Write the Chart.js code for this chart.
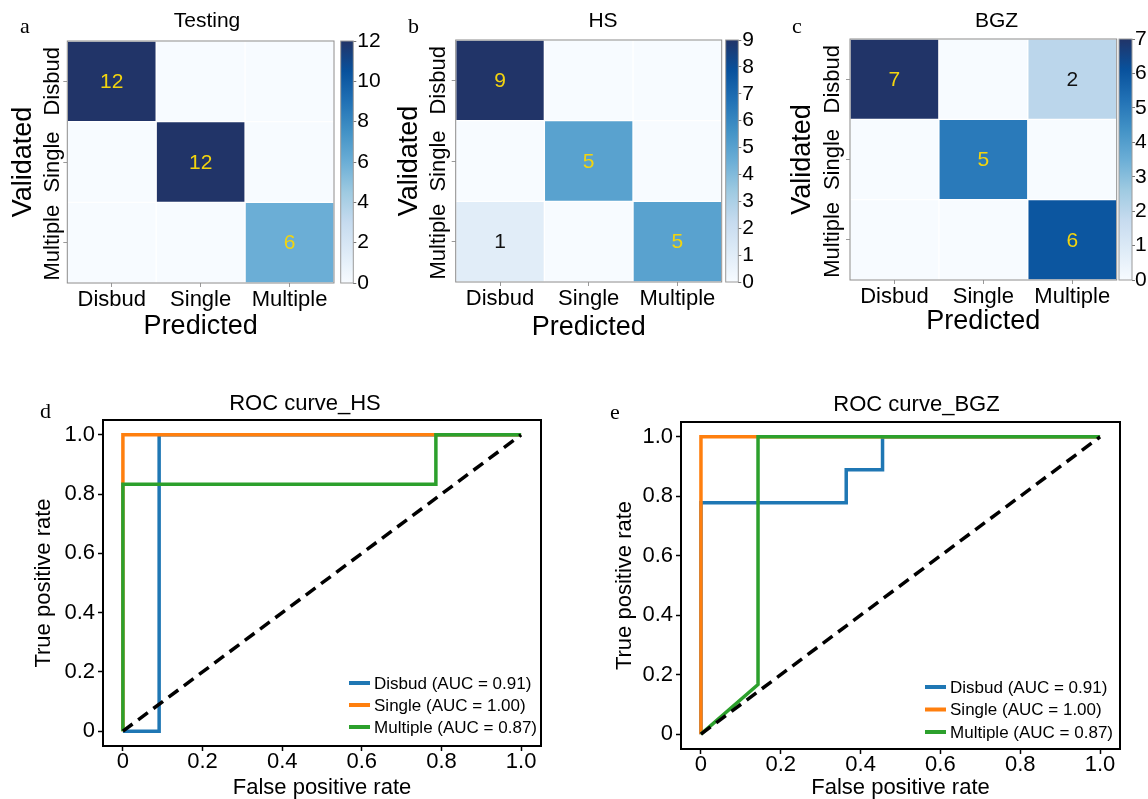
<!DOCTYPE html>
<html>
<head>
<meta charset="utf-8">
<title>Confusion matrices and ROC curves</title>
<script src="https://cdn.jsdelivr.net/npm/chart.js@4.4.1/dist/chart.umd.min.js"></script>
<style>
  html, body { margin: 0; padding: 0; background: #fff; overflow: hidden; }
  body { position: relative; width: 1148px; height: 799px; }
  canvas { position: absolute; }
  .tag { position: absolute; font: 22px/22px 'Liberation Serif', 'Times New Roman', serif; color: #000; }
</style>
</head>
<body>
<canvas id="cmTesting" width="414" height="345" style="left:0;top:0"></canvas>
<canvas id="cmHS" width="426" height="345" style="left:390px;top:0"></canvas>
<canvas id="cmBGZ" width="453" height="345" style="left:770px;top:0"></canvas>
<canvas id="cbTesting" width="60" height="300" style="left:336px;top:0"></canvas>
<canvas id="cbHS" width="60" height="300" style="left:722px;top:0"></canvas>
<canvas id="cbBGZ" width="33" height="300" style="left:1115px;top:0"></canvas>
<canvas id="rocHS" width="610" height="419" style="left:0;top:380px"></canvas>
<canvas id="rocBGZ" width="683" height="419" style="left:575px;top:380px"></canvas>

<div class="tag" style="left:20px;top:15px">a</div>
<div class="tag" style="left:408px;top:15px">b</div>
<div class="tag" style="left:792px;top:15px">c</div>
<div class="tag" style="left:40px;top:400px">d</div>
<div class="tag" style="left:610px;top:401px">e</div>

<script>
// ---- data ----
const classes = ['Disbud', 'Single', 'Multiple'];

// confusion matrices: rows = validated, columns = predicted
const testingMatrix = [[12, 0, 0], [0, 12, 0], [0, 0, 6]];
const hsMatrix = [[9, 0, 0], [0, 5, 0], [1, 0, 5]];
const bgzMatrix = [[7, 0, 2], [0, 5, 0], [0, 0, 6]];

// colorbar ticks
const testingBarTicks = [0, 2, 4, 6, 8, 10, 12];
const hsBarTicks = [0, 1, 2, 3, 4, 5, 6, 7, 8, 9];
const bgzBarTicks = [0, 1, 2, 3, 4, 5, 6, 7];

// ROC curves
const rocTicks = [0, 0.2, 0.4, 0.6, 0.8, 1.0];
const hsAuc = [0.91, 1.00, 0.87];
const bgzAuc = [0.91, 1.00, 0.87];

const hsDisbudFpr = [0, 0.091, 0.091, 1];
const hsDisbudTpr = [0, 0, 1, 1];
const hsSingleFpr = [0, 0, 1];
const hsSingleTpr = [0, 1, 1];
const hsMultipleFpr = [0, 0, 0.786, 0.786, 1];
const hsMultipleTpr = [0, 0.833, 0.833, 1, 1];

const bgzDisbudFpr = [0, 0, 0.364, 0.364, 0.455, 0.455, 1];
const bgzDisbudTpr = [0, 0.778, 0.778, 0.889, 0.889, 1, 1];
const bgzSingleFpr = [0, 0, 1];
const bgzSingleTpr = [0, 1, 1];
const bgzMultipleFpr = [0, 0.143, 0.143, 1];
const bgzMultipleTpr = [0, 0.167, 1, 1];

const chanceLine = [0, 1];

// ---- defaults ----
const FONT = "'Liberation Sans', Arial, sans-serif";
Chart.defaults.font.family = FONT;
Chart.defaults.color = '#000';
Chart.defaults.animation = false;
Chart.defaults.events = [];
Chart.defaults.plugins.legend.display = false;
Chart.defaults.plugins.tooltip.enabled = false;

// Blues colormap
const bluesStops = ['#f7fbff', '#deebf7', '#c6dbef', '#9ecae1', '#6baed6', '#4292c6', '#2171b5', '#08519c', '#213468'];

function hexRgb(h) {
  const n = parseInt(h.slice(1), 16);
  return [(n >> 16) & 255, (n >> 8) & 255, n & 255];
}

function blues(t) {
  t = Math.max(0, Math.min(1, t));
  const p = t * (bluesStops.length - 1);
  const i = Math.min(Math.floor(p), bluesStops.length - 2);
  const f = p - i;
  const a = hexRgb(bluesStops[i]), b = hexRgb(bluesStops[i + 1]);
  const c = a.map((v, k) => Math.round(v + (b[k] - v) * f));
  return `rgb(${c[0]}, ${c[1]}, ${c[2]})`;
}

// ---- plugins ----
const framePlugin = {
  id: 'frame',
  defaults: { color: '#000', width: 1 },
  afterDatasetsDraw(chart, args, opts) {
    const { ctx, chartArea: a } = chart;
    ctx.save();
    ctx.strokeStyle = opts.color;
    ctx.lineWidth = opts.width;
    ctx.strokeRect(a.left, a.top, a.right - a.left, a.bottom - a.top);
    ctx.restore();
  }
};

// numbers inside the heatmap cells
const cellTextPlugin = {
  id: 'cellText',
  defaults: { max: 1, size: 21 },
  afterDatasetsDraw(chart, args, opts) {
    const { ctx } = chart;
    ctx.save();
    ctx.font = `${opts.size}px ${FONT}`;
    ctx.textAlign = 'center';
    ctx.textBaseline = 'middle';
    chart.data.datasets.forEach((ds, r) => {
      chart.getDatasetMeta(r).data.forEach((bar, c) => {
        const v = ds.values[c];
        if (!v) return;
        ctx.fillStyle = v / opts.max >= 0.5 ? '#f3d40e' : '#111';
        ctx.fillText(String(v), bar.x, (bar.y + bar.base) / 2 + 1);
      });
    });
    ctx.restore();
  }
};

// vertical row labels of the heatmaps
const rotatedTicksPlugin = {
  id: 'rotatedTicks',
  defaults: { offset: 14, size: 22 },
  afterDraw(chart, args, opts) {
    const { ctx, chartArea } = chart;
    const scale = chart.scales.y;
    ctx.save();
    ctx.font = `${opts.size}px ${FONT}`;
    ctx.fillStyle = '#000';
    ctx.textAlign = 'center';
    ctx.textBaseline = 'middle';
    scale.ticks.forEach((t, i) => {
      ctx.save();
      ctx.translate(chartArea.left - opts.offset, scale.getPixelForValue(t.value));
      ctx.rotate(-Math.PI / 2);
      ctx.fillText(chart.data.labels[i], 0, 0);
      ctx.restore();
    });
    ctx.restore();
  }
};

// legend inside the lower right corner of the ROC plots
const rocLegendPlugin = {
  id: 'rocLegend',
  defaults: { right: 4, bottom: 19, rowGap: 22, sample: 21, gap: 4, size: 17 },
  afterDatasetsDraw(chart, args, opts) {
    const { ctx, chartArea } = chart;
    const items = chart.data.datasets.filter(d => d.label);
    ctx.save();
    ctx.font = `${opts.size}px ${FONT}`;
    const textW = Math.max(...items.map(d => ctx.measureText(d.label).width));
    const x0 = chartArea.right - opts.right - textW - opts.gap - opts.sample;
    items.forEach((d, i) => {
      const y = chartArea.bottom - opts.bottom - (items.length - 1 - i) * opts.rowGap;
      ctx.strokeStyle = d.borderColor;
      ctx.lineWidth = 4;
      ctx.beginPath();
      ctx.moveTo(x0, y);
      ctx.lineTo(x0 + opts.sample, y);
      ctx.stroke();
      ctx.fillStyle = '#000';
      ctx.textAlign = 'left';
      ctx.textBaseline = 'middle';
      ctx.fillText(d.label, x0 + opts.sample + opts.gap, y + 1);
    });
    ctx.restore();
  }
};

// empty axis on the right, only used to balance the title over the plot
function spacerAxis(width) {
  return {
    type: 'linear', position: 'right',
    grid: { display: false }, border: { display: false }, ticks: { display: false },
    afterFit: s => { s.width = width; }
  };
}

// ---- confusion matrix heatmap ----
function heatmap(id, title, matrix, o) {
  const max = Math.max(...matrix.flat());
  const rowCenters = classes.map((_, i) => i + 0.5);
  return new Chart(document.getElementById(id), {
    type: 'bar',
    data: {
      labels: classes,
      datasets: matrix.map((row, r) => ({
        data: row.map(() => [r, r + 1]),
        values: row,
        backgroundColor: row.map(v => blues(v / max)),
        borderColor: '#ffffff',
        borderWidth: 1,
        borderSkipped: false,
        barPercentage: 1,
        categoryPercentage: 1,
        xAxisID: 'x',
        yAxisID: 'y'
      }))
    },
    options: {
      responsive: false,
      devicePixelRatio: 1,
      layout: { padding: 0 },
      plugins: {
        title: {
          display: true, text: title, color: '#000',
          font: { size: 21, weight: 'normal', lineHeight: 1.2 },
          padding: { top: o.titleTop, bottom: o.titleBottom }
        },
        frame: { color: '#8c8c8c', width: 1 },
        cellText: { max },
        rotatedTicks: { offset: o.tickOffset }
      },
      scales: {
        x: {
          type: 'category', stacked: true, offset: true,
          grid: { offset: false, drawOnChartArea: false, tickLength: 4, tickColor: '#999' },
          border: { display: false },
          ticks: { font: { size: 22 }, padding: 0, minRotation: 0, maxRotation: 0, autoSkip: false },
          title: { display: true, text: 'Predicted', font: { size: 27, lineHeight: 1 }, padding: { top: 0, bottom: o.xTitlePad } },
          afterFit: s => { s.height = o.xHeight; }
        },
        y: {
          type: 'linear', min: 0, max: classes.length, reverse: true,
          afterBuildTicks: s => { s.ticks = rowCenters.map(v => ({ value: v })); },
          grid: { drawOnChartArea: false, tickLength: 4, tickColor: '#999' },
          border: { display: false },
          ticks: { display: false },
          title: { display: true, text: 'Validated', font: { size: 27, lineHeight: 1 }, padding: { top: o.yTitlePad, bottom: 0 } },
          afterFit: s => { s.width = o.yWidth; }
        },
        padR: spacerAxis(o.rightWidth)
      }
    },
    plugins: [framePlugin, cellTextPlugin, rotatedTicksPlugin]
  });
}

// ---- colorbar ----
function barGradient(chart, max) {
  const { ctx, chartArea, scales } = chart;
  if (!chartArea) return null;
  const g = ctx.createLinearGradient(0, scales.y.getPixelForValue(0), 0, scales.y.getPixelForValue(max));
  bluesStops.forEach((c, i) => g.addColorStop(i / (bluesStops.length - 1), c));
  return g;
}

function colorbar(id, matrix, ticks, o) {
  const max = Math.max(...matrix.flat());
  return new Chart(document.getElementById(id), {
    type: 'bar',
    data: {
      labels: [''],
      datasets: [{
        data: [[0, max]],
        backgroundColor: c => barGradient(c.chart, max),
        borderWidth: 0,
        barPercentage: 1,
        categoryPercentage: 1
      }]
    },
    options: {
      responsive: false,
      devicePixelRatio: 1,
      layout: { padding: { left: o.left, top: o.top, bottom: o.bottom, right: 0 } },
      plugins: { frame: { color: '#9a9a9a', width: 1 } },
      scales: {
        x: { display: false },
        y: {
          position: 'right', min: 0, max,
          afterBuildTicks: s => { s.ticks = ticks.map(v => ({ value: v })); },
          grid: { drawOnChartArea: false, tickLength: 3, tickColor: '#777' },
          border: { display: false },
          ticks: { font: { size: 21 }, padding: o.tickPad, autoSkip: false },
          afterFit: s => { s.width = o.width; }
        }
      }
    },
    plugins: [framePlugin]
  });
}

// ---- ROC ----
function points(fpr, tpr) {
  return fpr.map((x, i) => ({ x, y: tpr[i] }));
}

function rocChart(id, title, curves, auc, o) {
  const colors = ['#1f77b4', '#ff7f0e', '#2ca02c'];
  const datasets = curves.map((c, i) => ({
    label: `${classes[i]} (AUC = ${auc[i].toFixed(2)})`,
    data: points(c[0], c[1]),
    borderColor: colors[i],
    borderWidth: 3.5,
    order: 3 - i
  }));
  datasets.push({
    label: '',
    data: points(chanceLine, chanceLine),
    borderColor: '#000',
    borderWidth: 3.5,
    borderDash: [12, 7],
    order: 0
  });
  datasets.forEach(d => Object.assign(d, {
    pointRadius: 0, tension: 0, fill: false, borderJoinStyle: 'miter', xAxisID: 'x', yAxisID: 'y'
  }));

  const tickLabel = v => (v === 0 ? '0' : v.toFixed(1));

  return new Chart(document.getElementById(id), {
    type: 'line',
    data: { datasets },
    options: {
      responsive: false,
      devicePixelRatio: 1,
      layout: { padding: 0 },
      plugins: {
        title: {
          display: true, text: title, color: '#000',
          font: { size: 22, weight: 'normal', lineHeight: 1.2 },
          padding: { top: o.titleTop, bottom: o.titleBottom }
        },
        frame: { color: '#000', width: 2 },
        rocLegend: { right: o.legendRight, bottom: o.legendBottom, rowGap: o.legendGap }
      },
      scales: {
        x: {
          type: 'linear', min: -0.05, max: 1.05, bounds: 'data',
          afterBuildTicks: s => { s.ticks = rocTicks.map(v => ({ value: v })); },
          ticks: { callback: tickLabel, font: { size: 22, lineHeight: 1 }, padding: 0, maxRotation: 0 },
          grid: { drawOnChartArea: false, tickLength: 5, tickColor: '#000', tickWidth: 1.5 },
          border: { display: false },
          title: { display: true, text: 'False positive rate', font: { size: 22, lineHeight: 1 }, padding: { top: 0, bottom: 0 } },
          afterFit: s => { s.height = o.xHeight; }
        },
        y: {
          type: 'linear', min: -0.05, max: 1.05, bounds: 'data',
          afterBuildTicks: s => { s.ticks = rocTicks.map(v => ({ value: v })); },
          ticks: { callback: tickLabel, font: { size: 22, lineHeight: 1 }, padding: 3 },
          grid: { drawOnChartArea: false, tickLength: 5, tickColor: '#000', tickWidth: 1.5 },
          border: { display: false },
          title: { display: true, text: 'True positive rate', font: { size: 22, lineHeight: 1 }, padding: { top: o.yTitlePad, bottom: 0 } },
          afterFit: s => { s.width = o.yWidth; }
        },
        padR: spacerAxis(o.rightWidth)
      }
    },
    plugins: [framePlugin, rocLegendPlugin]
  });
}

// ---- build the figure ----
heatmap('cmTesting', 'Testing', testingMatrix, {
  yWidth: 67.3, rightWidth: 80, xHeight: 62,
  titleTop: 9, titleBottom: 6.8, xTitlePad: 4.8, yTitlePad: 10.5, tickOffset: 14
});
heatmap('cmHS', 'HS', hsMatrix, {
  yWidth: 65.7, rightWidth: 94.3, xHeight: 63,
  titleTop: 9.1, titleBottom: 5.7, xTitlePad: 3.5, yTitlePad: 6.5, tickOffset: 17
});
heatmap('cmBGZ', 'BGZ', bgzMatrix, {
  yWidth: 80, rightWidth: 106.3, xHeight: 65,
  titleTop: 9.1, titleBottom: 4.7, xTitlePad: 9.8, yTitlePad: 19.5, tickOffset: 17
});

colorbar('cbTesting', testingMatrix, testingBarTicks, { left: 4.7, top: 41, bottom: 17, width: 42.7, tickPad: 1 });
colorbar('cbHS', hsMatrix, hsBarTicks, { left: 3.7, top: 40, bottom: 18, width: 43.7, tickPad: 1 });
colorbar('cbBGZ', bgzMatrix, bgzBarTicks, { left: 4, top: 39, bottom: 20, width: 16, tickPad: 0 });

rocChart('rocHS', 'ROC curve_HS',
  [[hsDisbudFpr, hsDisbudTpr], [hsSingleFpr, hsSingleTpr], [hsMultipleFpr, hsMultipleTpr]], hsAuc, {
  yWidth: 103, rightWidth: 69, xHeight: 53, titleTop: 10.8, titleBottom: 2.8, yTitlePad: 33,
  legendRight: 4, legendBottom: 19, legendGap: 22
});
rocChart('rocBGZ', 'ROC curve_BGZ',
  [[bgzDisbudFpr, bgzDisbudTpr], [bgzSingleFpr, bgzSingleTpr], [bgzMultipleFpr, bgzMultipleTpr]], bgzAuc, {
  yWidth: 106, rightWidth: 138, xHeight: 50, titleTop: 11.8, titleBottom: 3.8, yTitlePad: 39,
  legendRight: 7, legendBottom: 17, legendGap: 22.5
});
</script>
</body>
</html>
